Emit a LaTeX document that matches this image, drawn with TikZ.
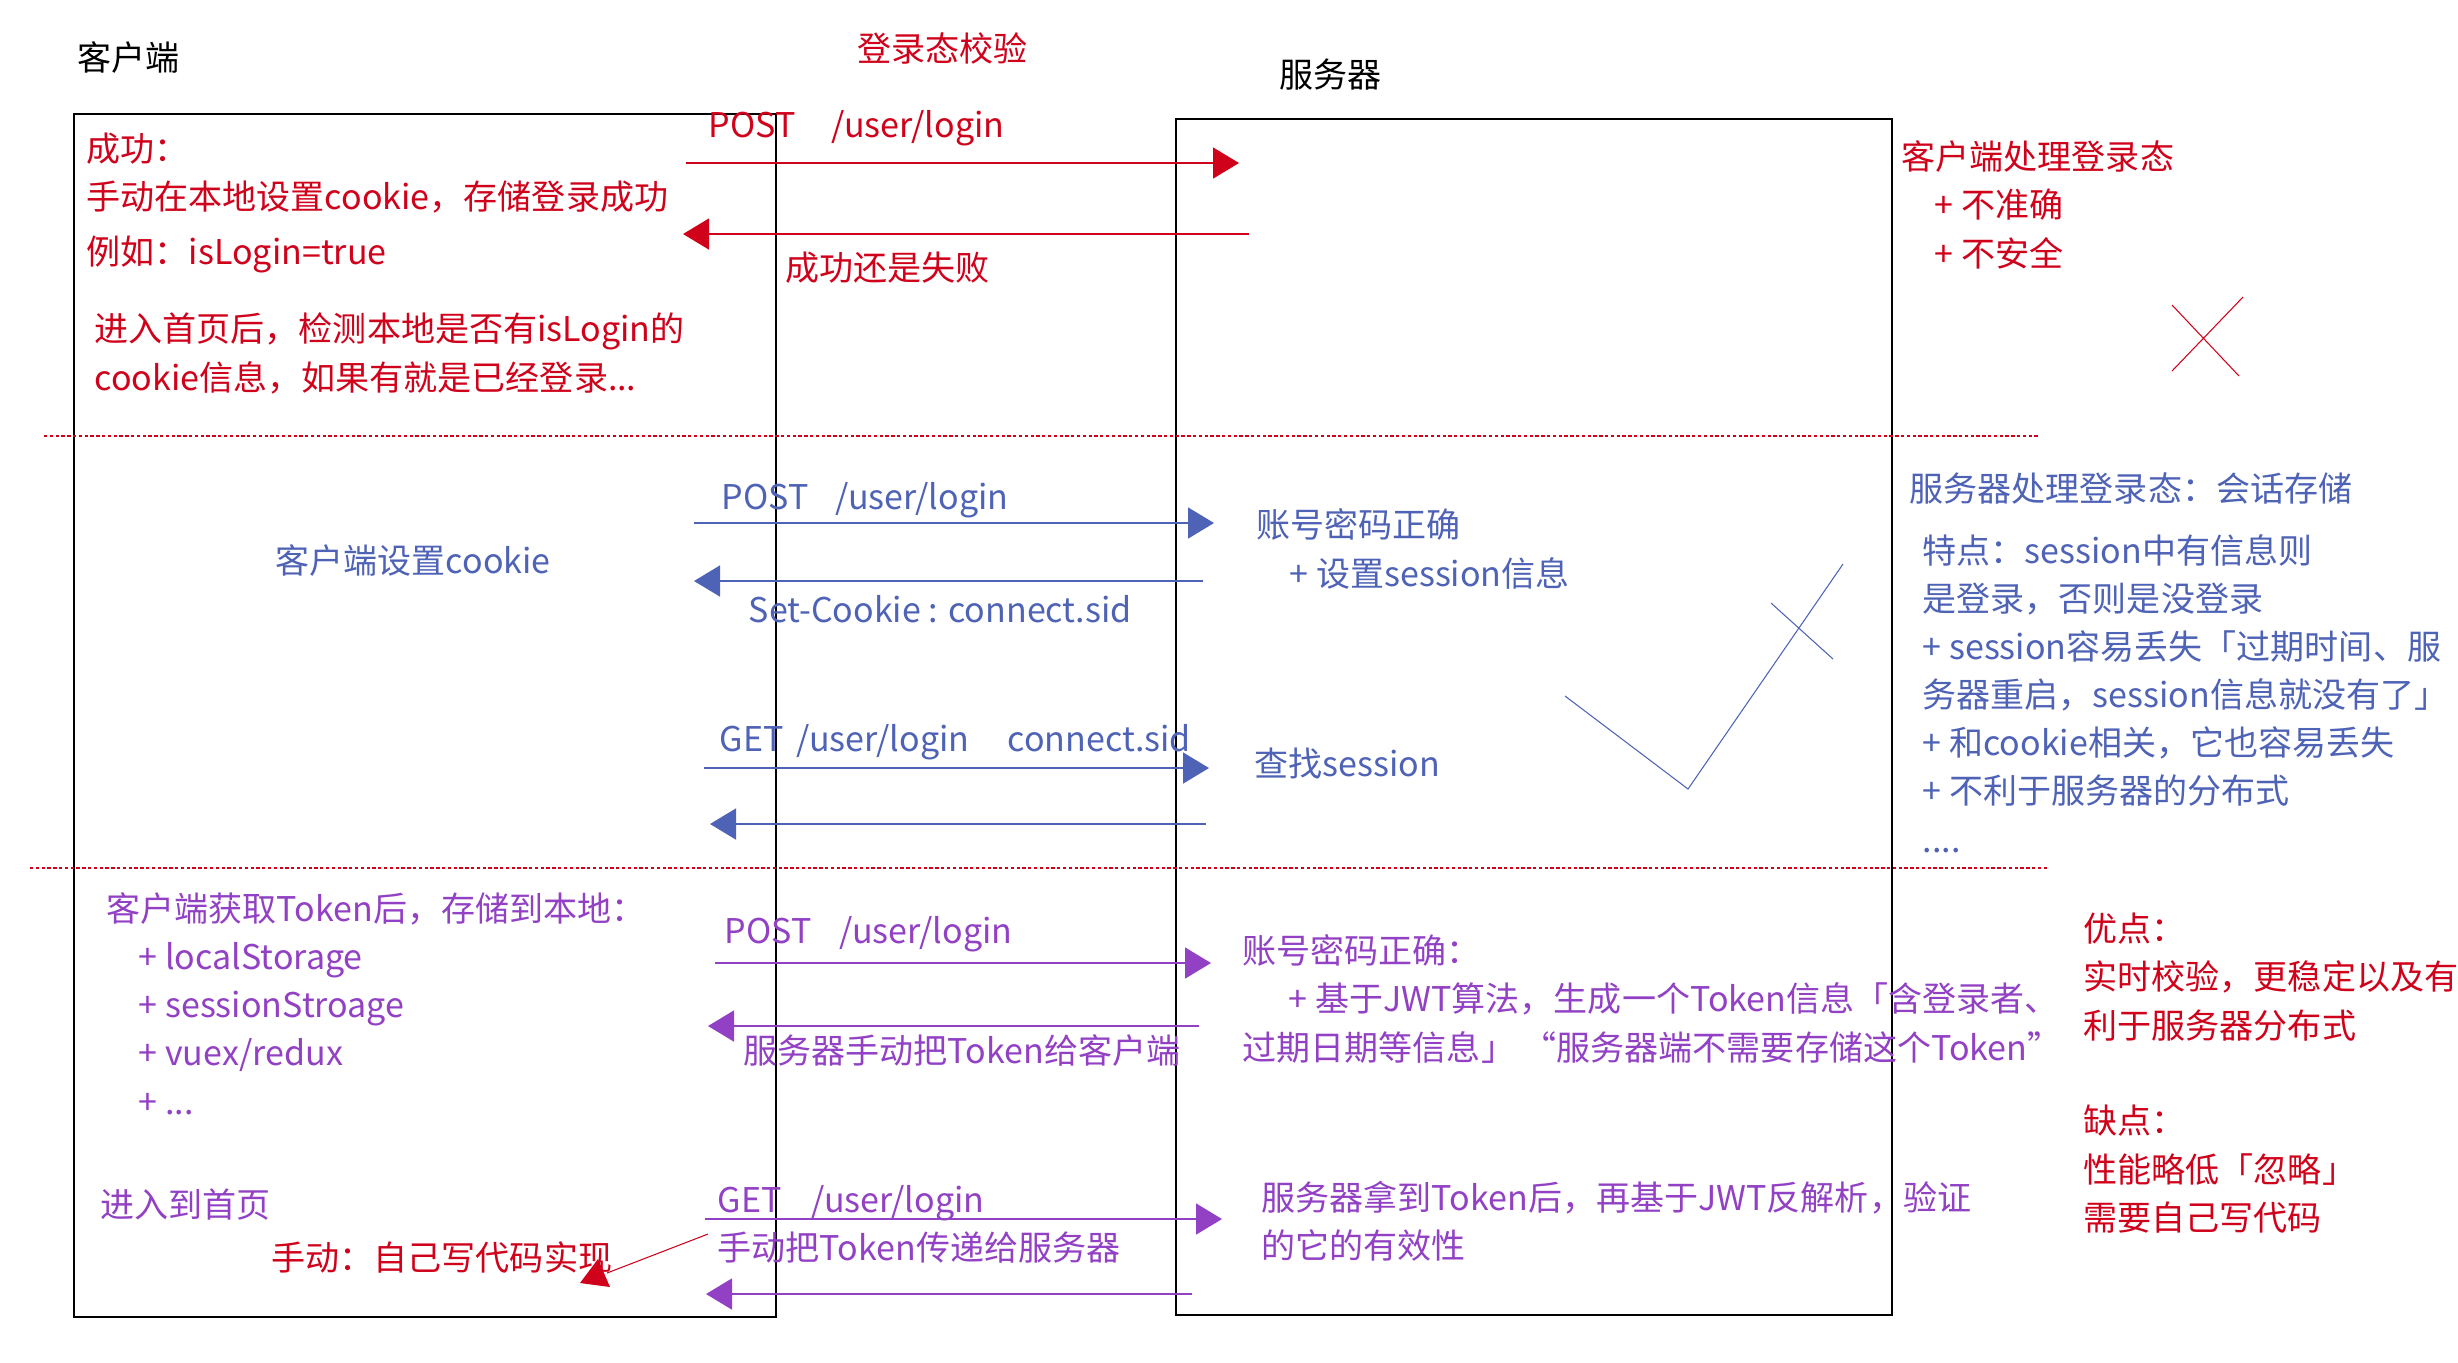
\documentclass[tikz,border=0pt]{standalone}
\usepackage{fontspec}
\setmainfont{Noto Sans CJK SC}
\usepackage{tikz}
\usetikzlibrary{arrows.meta}
\definecolor{loginRed}{HTML}{D0021B}
\definecolor{sessionBlue}{HTML}{4E62B6}
\definecolor{tokenPurple}{HTML}{9241C4}

\tikzset{
  txt/.style={anchor=base west,inner sep=0pt,align=left,
    font=\fontsize{9.68pt}{13.66pt}\selectfont},
  msg/.style={line width=0.45pt,-{Triangle[length=0.26cm,width=0.31cm]}},
  lifeBox/.style={draw=black,line width=0.5pt},
  sepLine/.style={loginRed,line width=0.02cm,dash pattern=on 0.033cm off 0.025cm},
  thinMark/.style={line width=0.3pt},
}

\begin{document}
\begin{tikzpicture}[x=0.01cm,y=-0.01cm]
\useasboundingbox (0,0) rectangle (2458,1362);
% Istemci ve sunucu kutulari
\draw[lifeBox] (74,114) rectangle (776,1317);
\draw[lifeBox] (1176,119) rectangle (1892,1315);
\node[txt] (clientTitle) at (77,70) {客户端};
\node[txt] (serverTitle) at (1279,87) {服务器};
% Ayirici cizgiler
\coordinate (sepA1) at (44,436);
\coordinate (sepA2) at (2038,436);
\coordinate (sepB1) at (30,868);
\coordinate (sepB2) at (2048,868);
\draw[sepLine] (sepA1) -- (sepA2);
\draw[sepLine] (sepB1) -- (sepB2);
% Mesaj uclari
\foreach \nm/\xa/\xb/\yy in {rq1/686/1239/163, rp1/1249/683/234,
    bq1/694/1214/523, bp1/1203/694/581, bq2/704/1209/768, bp2/1206/710/824,
    pq1/715/1211/963, pp1/1199/708/1026, pq2/705/1222/1219, pp2/1192/706/1294}
  {\coordinate (\nm a) at (\xa,\yy); \coordinate (\nm b) at (\xb,\yy);}

% Istemci tarafi: cookie
\node[txt,loginRed] (checkTitle) at (857,61) {登录态校验};
\node[txt,loginRed] (postOne) at (708,137) {POST\hspace{0.36cm}/user/login};
\node[txt,loginRed] (resultOne) at (785,280) {成功还是失败};
\node[txt,loginRed] (cookieSet) at (86,264) {成功：\\手动在本地设置cookie，存储登录成功\\[0.06cm]例如：isLogin=true};
\node[txt,loginRed] (cookieRead) at (94,390) {进入首页后，检测本地是否有isLogin的\\cookie信息，如果有就是已经登录...};
\node[txt,loginRed] (clientWay) at (1901,266) {客户端处理登录态\\\hspace*{0.33cm}+ 不准确\\\hspace*{0.33cm}+ 不安全};
\draw[msg,loginRed] (rq1a) -- (rq1b);
\draw[msg,loginRed] (rp1a) -- (rp1b);
\draw[loginRed,thinMark] (2172,305) -- (2239,376) (2243,297) -- (2172,371);

% Sunucu oturumu
\node[txt,sessionBlue] (postTwo) at (721,509) {POST\hspace{0.27cm}/user/login};
\node[txt,sessionBlue] (cookieSide) at (275,573) {客户端设置cookie};
\node[txt,sessionBlue] (setCookie) at (748,622) {Set-Cookie : connect.sid};
\node[txt,sessionBlue] (getOne) at (719,751) {GET\hspace{0.13cm}/user/login\hspace{0.38cm}connect.sid};
\node[txt,sessionBlue] (accountOk) at (1256,586) {账号密码正确\\\hspace*{0.33cm}+ 设置session信息};
\node[txt,sessionBlue] (findSession) at (1254,776) {查找session};
\node[txt,sessionBlue] (sessionTitle) at (1909,501) {服务器处理登录态：会话存储};
\node[txt,sessionBlue] (sessionNotes) at (1922,852) {特点：session中有信息则\\是登录，否则是没登录\\+ session容易丢失「过期时间、服\\务器重启，session信息就没有了」\\+ 和cookie相关，它也容易丢失\\+ 不利于服务器的分布式\\....};
\draw[msg,sessionBlue] (bq1a) -- (bq1b);
\draw[msg,sessionBlue] (bp1a) -- (bp1b);
\draw[msg,sessionBlue] (bq2a) -- (bq2b);
\draw[msg,sessionBlue] (bp2a) -- (bp2b);
\draw[sessionBlue,thinMark] (1565,696) -- (1688,789) -- (1843,564);
\draw[sessionBlue,thinMark] (1771,603) -- (1833,659);

% Token
\node[txt,tokenPurple] (tokenStore) at (106,1114) {客户端获取Token后，存储到本地：\\\hspace*{0.32cm}+ localStorage\\\hspace*{0.32cm}+ sessionStroage\\\hspace*{0.32cm}+ vuex/redux\\\hspace*{0.32cm}+ ...};
\node[txt,tokenPurple] (homePage) at (100,1217) {进入到首页};
\node[txt,loginRed] (manualCode) at (271,1270) {手动：自己写代码实现};
\node[txt,tokenPurple] (postThree) at (724,943) {POST\hspace{0.28cm}/user/login};
\node[txt,tokenPurple] (tokenBack) at (743,1063) {服务器手动把Token给客户端};
\node[txt,tokenPurple] (getTwo) at (717,1212) {GET\hspace{0.3cm}/user/login};
\node[txt,tokenPurple] (tokenSend) at (717,1260) {手动把Token传递给服务器};
\node[txt,tokenPurple] (jwtMake) at (1242,1060) {账号密码正确：\\\hspace*{0.46cm}+ 基于JWT算法，生成一个Token信息「含登录者、\\过期日期等信息」 “服务器端不需要存储这个Token”};
\node[txt,tokenPurple] (jwtCheck) at (1261,1258) {服务器拿到Token后，再基于JWT反解析，验证\\的它的有效性};
\node[txt,loginRed] (prosText) at (2083,1038) {优点：\\实时校验，更稳定以及有\\利于服务器分布式};
\node[txt,loginRed] (consText) at (2083,1230) {缺点：\\性能略低「忽略」\\需要自己写代码};
\draw[msg,tokenPurple] (pq1a) -- (pq1b);
\draw[msg,tokenPurple] (pp1a) -- (pp1b);
\draw[msg,tokenPurple] (pq2a) -- (pq2b);
\draw[msg,tokenPurple] (pp2a) -- (pp2b);
\coordinate (noteFrom) at (708,1234);
\coordinate (noteTo) at (607,1273);
\draw[loginRed,thinMark] (noteFrom) -- (noteTo);
\fill[loginRed] (580,1283) -- (610,1287) -- (598,1259) -- cycle;
\end{tikzpicture}
\end{document}
